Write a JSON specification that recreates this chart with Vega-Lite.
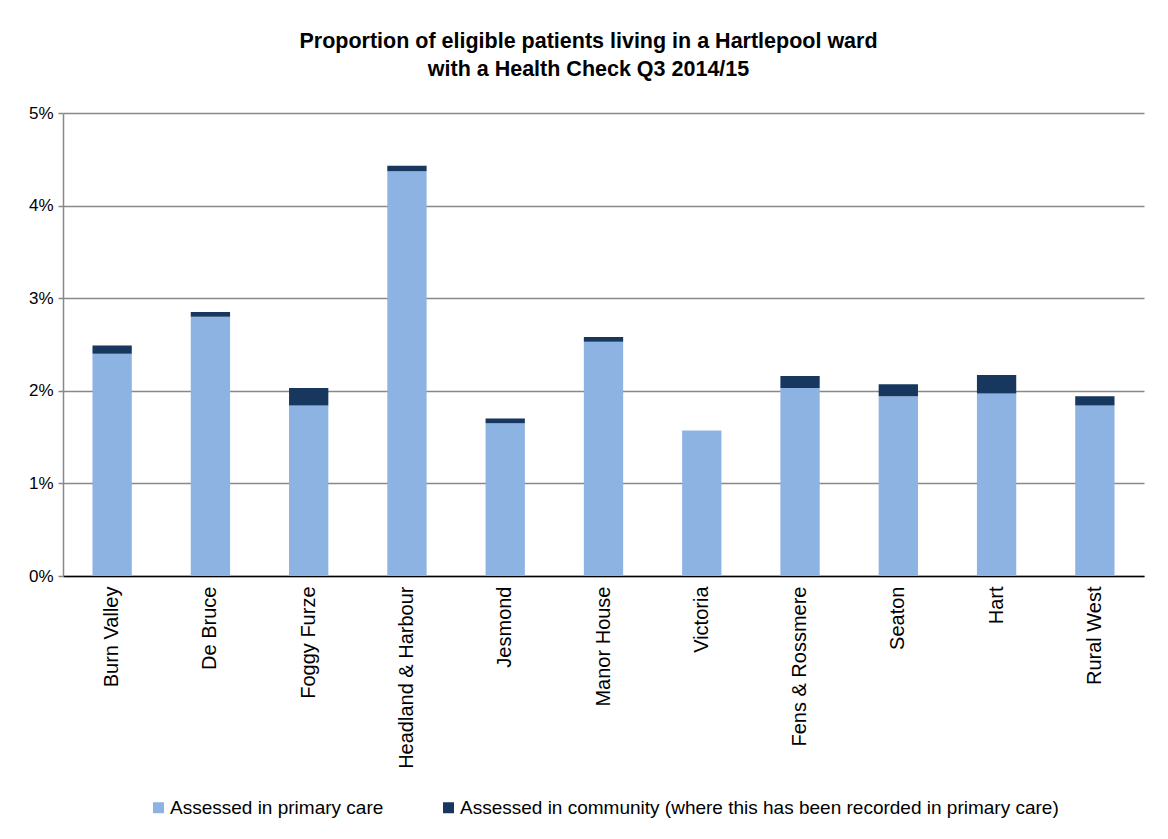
{
  "$schema": "https://vega.github.io/schema/vega-lite/v6.json",
  "width": 1081,
  "height": 463,
  "autosize": {"type": "none"},
  "padding": {"left": 63, "top": 113, "right": 24, "bottom": 263},
  "background": "white",
  "title": {
    "text": ["Proportion of eligible patients living in a Hartlepool ward", "with a Health Check Q3 2014/15"],
    "font": "Liberation Sans",
    "fontSize": 21.5,
    "fontWeight": "bold",
    "color": "#000000",
    "anchor": "middle",
    "dx": -15,
    "offset": 24,
    "lineHeight": 28
  },
  "data": {
    "values": [
      {"ward": "Burn Valley", "series": "Assessed in primary care", "value": 0.0240, "ord": 1},
      {"ward": "Burn Valley", "series": "Assessed in community (where this has been recorded in primary care)", "value": 0.0009, "ord": 2},
      {"ward": "De Bruce", "series": "Assessed in primary care", "value": 0.0280, "ord": 1},
      {"ward": "De Bruce", "series": "Assessed in community (where this has been recorded in primary care)", "value": 0.0005, "ord": 2},
      {"ward": "Foggy Furze", "series": "Assessed in primary care", "value": 0.0184, "ord": 1},
      {"ward": "Foggy Furze", "series": "Assessed in community (where this has been recorded in primary care)", "value": 0.0019, "ord": 2},
      {"ward": "Headland & Harbour", "series": "Assessed in primary care", "value": 0.0437, "ord": 1},
      {"ward": "Headland & Harbour", "series": "Assessed in community (where this has been recorded in primary care)", "value": 0.0006, "ord": 2},
      {"ward": "Jesmond", "series": "Assessed in primary care", "value": 0.0165, "ord": 1},
      {"ward": "Jesmond", "series": "Assessed in community (where this has been recorded in primary care)", "value": 0.0005, "ord": 2},
      {"ward": "Manor House", "series": "Assessed in primary care", "value": 0.0253, "ord": 1},
      {"ward": "Manor House", "series": "Assessed in community (where this has been recorded in primary care)", "value": 0.0005, "ord": 2},
      {"ward": "Victoria", "series": "Assessed in primary care", "value": 0.0157, "ord": 1},
      {"ward": "Victoria", "series": "Assessed in community (where this has been recorded in primary care)", "value": 0.0, "ord": 2},
      {"ward": "Fens & Rossmere", "series": "Assessed in primary care", "value": 0.0203, "ord": 1},
      {"ward": "Fens & Rossmere", "series": "Assessed in community (where this has been recorded in primary care)", "value": 0.0013, "ord": 2},
      {"ward": "Seaton", "series": "Assessed in primary care", "value": 0.0194, "ord": 1},
      {"ward": "Seaton", "series": "Assessed in community (where this has been recorded in primary care)", "value": 0.0013, "ord": 2},
      {"ward": "Hart", "series": "Assessed in primary care", "value": 0.0197, "ord": 1},
      {"ward": "Hart", "series": "Assessed in community (where this has been recorded in primary care)", "value": 0.0020, "ord": 2},
      {"ward": "Rural West", "series": "Assessed in primary care", "value": 0.0184, "ord": 1},
      {"ward": "Rural West", "series": "Assessed in community (where this has been recorded in primary care)", "value": 0.0010, "ord": 2}
    ]
  },
  "mark": {"type": "bar"},
  "encoding": {
    "x": {
      "field": "ward",
      "type": "nominal",
      "sort": null,
      "scale": {"paddingInner": 0.6, "paddingOuter": 0.3},
      "axis": {
        "title": null,
        "labelAngle": -90,
        "labelFont": "Liberation Sans",
        "labelFontSize": 20,
        "labelColor": "#000000",
        "labelPadding": 10,
        "ticks": false,
        "domainColor": "#000000",
        "domainWidth": 1.5,
        "labelLimit": 300
      }
    },
    "y": {
      "field": "value",
      "type": "quantitative",
      "stack": "zero",
      "scale": {"domain": [0, 0.05], "nice": false},
      "axis": {
        "title": null,
        "format": ".0%",
        "values": [0, 0.01, 0.02, 0.03, 0.04, 0.05],
        "labelFont": "Liberation Sans",
        "labelFontSize": 17,
        "labelColor": "#000000",
        "labelPadding": 5,
        "tickSize": 5,
        "tickColor": "#888888",
        "tickWidth": 1.5,
        "domainColor": "#888888",
        "domainWidth": 1.5,
        "grid": true,
        "gridColor": "#888888",
        "gridWidth": 1.5
      }
    },
    "color": {
      "field": "series",
      "type": "nominal",
      "scale": {
        "domain": ["Assessed in primary care", "Assessed in community (where this has been recorded in primary care)"],
        "range": ["#8DB3E2", "#17375E"]
      },
      "legend": {
        "title": null,
        "orient": "bottom",
        "direction": "horizontal",
        "symbolType": "square",
        "symbolSize": 121,
        "symbolStrokeWidth": 0,
        "labelFont": "Liberation Sans",
        "labelFontSize": 19,
        "labelColor": "#000000",
        "labelLimit": 900,
        "labelOffset": 2,
        "columnPadding": 55,
        "offset": 29
      }
    },
    "order": {"field": "ord", "type": "quantitative"}
  },
  "config": {
    "view": {"stroke": null},
    "legend": {"layout": {"bottom": {"anchor": "middle"}}}
  }
}
